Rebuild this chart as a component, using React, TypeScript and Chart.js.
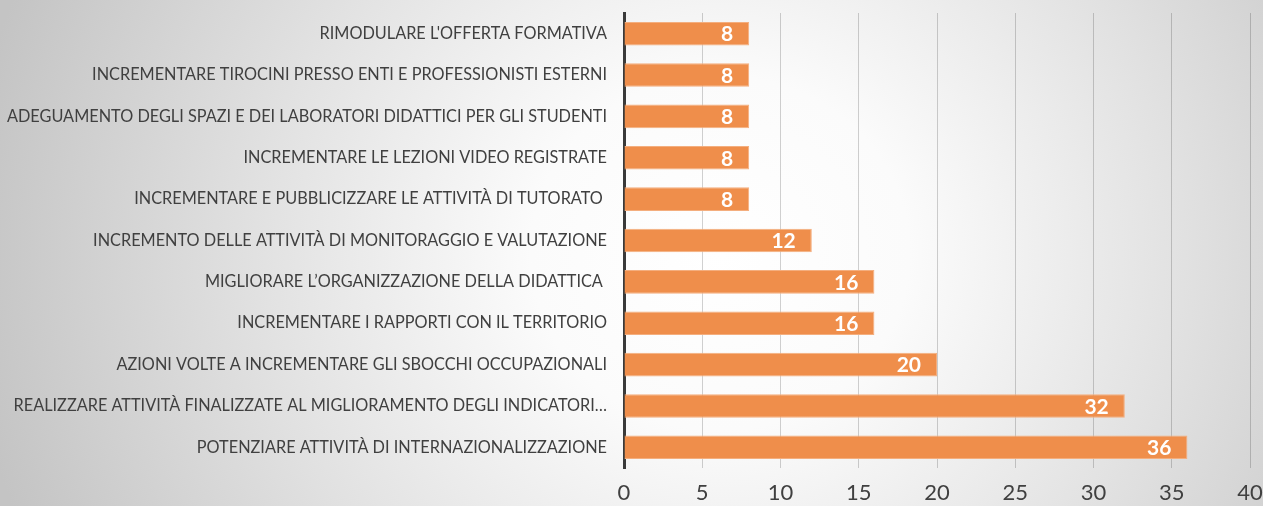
import React, { useEffect, useRef } from "react";
import { Chart, registerables } from "chart.js";

Chart.register(...registerables);

const categories: string[] = [
  "RIMODULARE L'OFFERTA FORMATIVA",
  "INCREMENTARE TIROCINI PRESSO ENTI E PROFESSIONISTI ESTERNI",
  "ADEGUAMENTO DEGLI SPAZI E DEI LABORATORI DIDATTICI PER GLI STUDENTI",
  "INCREMENTARE LE LEZIONI VIDEO REGISTRATE",
  "INCREMENTARE E PUBBLICIZZARE LE ATTIVITÀ DI TUTORATO ",
  "INCREMENTO DELLE ATTIVITÀ DI MONITORAGGIO E VALUTAZIONE",
  "MIGLIORARE L\u2019ORGANIZZAZIONE DELLA DIDATTICA ",
  "INCREMENTARE I RAPPORTI CON IL TERRITORIO",
  "AZIONI VOLTE A INCREMENTARE GLI SBOCCHI OCCUPAZIONALI",
  "REALIZZARE ATTIVITÀ FINALIZZATE AL MIGLIORAMENTO DEGLI INDICATORI\u2026",
  "POTENZIARE ATTIVITÀ DI INTERNAZIONALIZZAZIONE",
];

const values: number[] = [8, 8, 8, 8, 8, 12, 16, 16, 20, 32, 36];

const xMin = 0;
const xMax = 40;
const xStep = 5;

const FONT = "Lato, 'Open Sans', sans-serif";

const valueLabelPlugin = {
  id: "valueLabels",
  afterDatasetsDraw(chart: any) {
    const ctx = chart.ctx;
    const meta = chart.getDatasetMeta(0);
    ctx.save();
    ctx.fillStyle = "#ffffff";
    ctx.font = `bold 21px ${FONT}`;
    ctx.textAlign = "right";
    ctx.textBaseline = "middle";
    meta.data.forEach((bar: any, i: number) => {
      const v = chart.data.datasets[0].data[i];
      ctx.fillText(String(v), bar.x - 16, bar.y + 1);
    });
    ctx.restore();
  },
};

export default function App() {
  const canvasRef = useRef<HTMLCanvasElement | null>(null);

  useEffect(() => {
    document.body.style.margin = "0";
    const canvas = canvasRef.current;
    if (!canvas) return;
    const chart = new Chart(canvas, {
      type: "bar",
      data: {
        labels: categories,
        datasets: [
          {
            data: values,
            backgroundColor: "#EF8E4B",
            borderColor: "#F4AE7E",
            borderWidth: 1,
            borderSkipped: "start",
            barPercentage: 0.57,
            categoryPercentage: 1,
          },
        ],
      },
      options: {
        indexAxis: "y",
        responsive: false,
        animation: false,
        layout: { padding: 0 },
        plugins: {
          legend: { display: false },
          tooltip: { enabled: false },
        },
        scales: {
          x: {
            min: xMin,
            max: xMax,
            border: { display: false },
            grid: {
              drawTicks: false,
              color: (c: any) =>
                c.tick && c.tick.value === 0 ? "rgba(0,0,0,0)" : "rgba(0,0,0,0.18)",
              lineWidth: 1,
            },
            ticks: {
              stepSize: xStep,
              color: "#404040",
              padding: 12,
              font: { family: FONT, size: 22 },
            },
            afterFit: (scale: any) => {
              scale.height = 38;
              scale.paddingLeft = 0;
              scale.paddingRight = 13;
            },
          },
          y: {
            border: { display: true, color: "#3a3a3a", width: 3 },
            grid: { display: false, drawTicks: false },
            ticks: {
              color: "#404040",
              padding: 17,
              font: { family: FONT, size: 16.3 },
              autoSkip: false,
            },
            afterFit: (scale: any) => {
              scale.width = 624;
              scale.paddingTop = 13;
              scale.paddingBottom = 0;
            },
          },
        },
      },
      plugins: [valueLabelPlugin],
    });
    return () => chart.destroy();
  }, []);

  return (
    <div
      style={{
        width: 1263,
        height: 506,
        background:
          "radial-gradient(ellipse 60% 140% at 57% 50%, #ffffff 0%, #fbfbfb 25%, #e2e2e2 60%, #c4c4c4 100%)",
      }}
    >
      <canvas ref={canvasRef} width={1263} height={506} />
    </div>
  );
}
